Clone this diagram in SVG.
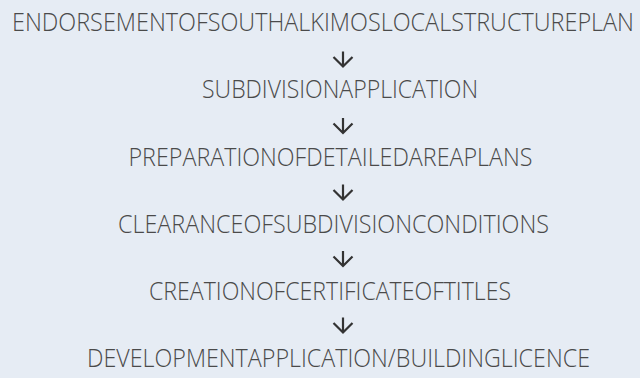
<svg xmlns="http://www.w3.org/2000/svg" width="640" height="378" viewBox="0 0 640 378">
  <style>
    .step { font-family: "Open Sans", "Liberation Sans", sans-serif; font-weight: 300; font-size: 20px; fill: #4a4a4a; text-anchor: middle; }
    .arrow { fill: none; stroke: #333333; stroke-width: 2.2; stroke-linecap: butt; stroke-linejoin: miter; }
  </style>
  <defs>
    <!-- down arrow: shaft plus chevron, 20 wide x 15 tall, centred on (0,0) -->
    <path id="down" class="arrow" d="M0,-7.5 V6.5 M-9.5,-2 L0,7.5 L9.5,-2"/>
  </defs>
  <rect width="640" height="378" fill="#e6ecf4"/>

  <g id="connectors">
    <use href="#down" x="343" y="59"/>
    <use href="#down" x="343" y="125.5"/>
    <use href="#down" x="343" y="192"/>
    <use href="#down" x="343" y="258.5"/>
    <use href="#down" x="343" y="325"/>
  </g>

  <!-- labels are set small and stretched upright for a tall, narrow letterform -->
  <g id="step1" transform="translate(323,31) scale(1,1.32)"><text class="step" x="0" y="0" textLength="622" lengthAdjust="spacingAndGlyphs">ENDORSEMENTOFSOUTHALKIMOSLOCALSTRUCTUREPLAN</text></g>
  <g id="step2" transform="translate(340,98) scale(1,1.32)"><text class="step" x="0" y="0" textLength="276" lengthAdjust="spacingAndGlyphs">SUBDIVISIONAPPLICATION</text></g>
  <g id="step3" transform="translate(330.5,165.5) scale(1,1.32)"><text class="step" x="0" y="0" textLength="404" lengthAdjust="spacingAndGlyphs">PREPARATIONOFDETAILEDAREAPLANS</text></g>
  <g id="step4" transform="translate(333.5,233) scale(1,1.32)"><text class="step" x="0" y="0" textLength="431" lengthAdjust="spacingAndGlyphs">CLEARANCEOFSUBDIVISIONCONDITIONS</text></g>
  <g id="step5" transform="translate(330,300) scale(1,1.32)"><text class="step" x="0" y="0" textLength="362" lengthAdjust="spacingAndGlyphs">CREATIONOFCERTIFICATEOFTITLES</text></g>
  <g id="step6" transform="translate(338.5,367) scale(1,1.32)"><text class="step" x="0" y="0" textLength="503" lengthAdjust="spacingAndGlyphs">DEVELOPMENTAPPLICATION/BUILDINGLICENCE</text></g>
</svg>
